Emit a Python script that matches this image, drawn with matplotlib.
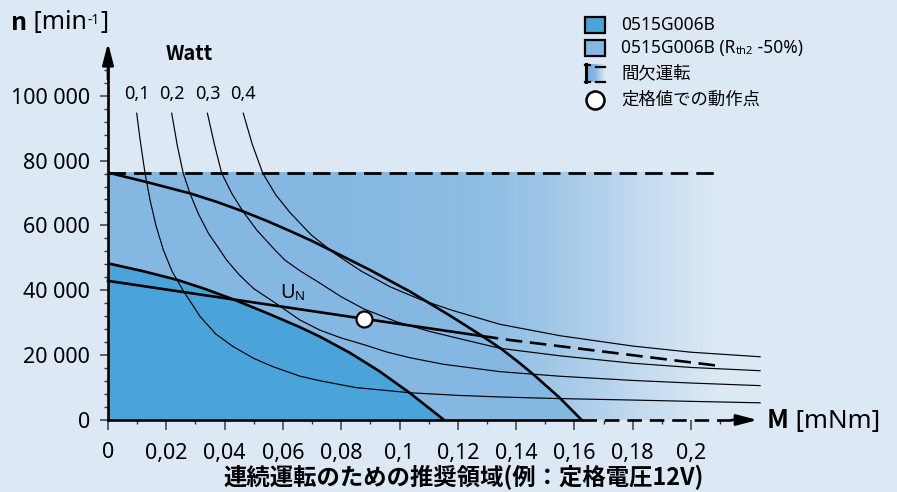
import numpy as np
import matplotlib
matplotlib.use("Agg")
import matplotlib.pyplot as plt
from matplotlib.colors import LinearSegmentedColormap
from matplotlib.patches import Rectangle
from matplotlib.lines import Line2D

plt.rcParams['font.family'] = ['Noto Sans', 'Noto Sans CJK JP', 'DejaVu Sans']
BOLD = ['Noto Sans CJK JP', 'DejaVu Sans']

# ---------------- data ----------------
x_ticks = [0, 0.02, 0.04, 0.06, 0.08, 0.10, 0.12, 0.14, 0.16, 0.18, 0.20]
x_tick_labels = ["0", "0,02", "0,04", "0,06", "0,08", "0,1", "0,12", "0,14", "0,16", "0,18", "0,2"]
y_ticks = [0, 20000, 40000, 60000, 80000, 100000]
y_tick_labels = ["0", "20 000", "40 000", "60 000", "80 000", "100 000"]

max_speed = 76300          # intermittent / max speed limit (rpm)
intermittent_end = 0.21    # torque where intermittent zone ends (mNm)

# 0515G006B continuous operation boundary
dark_M = [0, 0.012, 0.0238, 0.033, 0.043, 0.055, 0.0659, 0.0727, 0.083, 0.093, 0.1036, 0.1153]
dark_n = [48300, 45900, 43200, 40500, 37200, 32800, 28600, 25700, 20700, 15100, 8300, 0]

# 0515G006B (Rth2 -50%) boundary
light_M = [0, 0.014, 0.0281, 0.0375, 0.0464, 0.055, 0.0624, 0.07, 0.0767, 0.09, 0.1036,
           0.1173, 0.1282, 0.135, 0.1413, 0.1465, 0.155, 0.1625]
light_n = [76300, 73200, 69900, 67200, 64300, 61200, 58300, 55200, 52200, 46200, 39600,
           32200, 26000, 21900, 17500, 13600, 6800, 0]

# U_N line (solid, then dashed)
un_solid_M = [0, 0.0879, 0.1282]
un_solid_n = [42900, 31200, 25900]
un_dash_M = [0.1282, 0.138, 0.21]
un_dash_n = [25900, 24650, 16650]

# rated operating point
op_M = [0.0879]
op_n = [31200]

# constant power curves (Watt)
power_labels = ["0,1", "0,2", "0,3", "0,4"]
p01_M = [0.00985, 0.011, 0.0127, 0.0145, 0.0165, 0.019, 0.022, 0.0258, 0.0316, 0.037, 0.043,
         0.05, 0.0567, 0.0659, 0.0727, 0.085, 0.1036, 0.12, 0.1345, 0.155, 0.18, 0.2, 0.2237]
p01_n = [94600, 86500, 76100, 67500, 59800, 52400, 45800, 39900, 31900, 26500, 22600,
         19000, 16400, 13500, 12100, 10000, 8400, 7600, 7100, 6600, 6150, 5750, 5300]
p02_M = [0.02185, 0.0238, 0.0258, 0.0281, 0.031, 0.0345, 0.0384, 0.0407, 0.045, 0.05, 0.0567,
         0.0659, 0.0727, 0.08, 0.0879, 0.0955, 0.1036, 0.115, 0.1345, 0.155, 0.18, 0.2, 0.2237]
p02_n = [94600, 84500, 76100, 69900, 63600, 57500, 52400, 49300, 44800, 40500, 36500,
         30800, 27700, 25300, 23200, 21000, 19200, 17200, 14900, 13500, 12200, 11400, 10600]
p03_M = [0.0341, 0.0365, 0.039, 0.0425, 0.0464, 0.051, 0.0573, 0.0607, 0.0659, 0.0727, 0.08,
         0.0879, 0.099, 0.11, 0.12, 0.1345, 0.155, 0.18, 0.2, 0.2237]
p03_n = [94600, 85000, 76100, 69800, 64200, 58600, 52400, 49300, 46000, 42200, 38000,
         34200, 30300, 27400, 25200, 22100, 19800, 17500, 16200, 15200]
p04_M = [0.0464, 0.0495, 0.0531, 0.0575, 0.0624, 0.0698, 0.078, 0.0867, 0.0967, 0.107, 0.1185,
         0.1345, 0.155, 0.18, 0.2, 0.2237]
p04_n = [94600, 85000, 76100, 69500, 64000, 57000, 51200, 46000, 41100, 37200, 33700,
         29500, 26000, 22800, 20900, 19500]
power_M = [p01_M, p02_M, p03_M, p04_M]
power_n = [p01_n, p02_n, p03_n, p04_n]

legend_labels = ["0515G006B", "0515G006B (R", "間欠運転", "定格値での動作点"]
x_label = "M"
x_unit = " [mNm]"
y_label = "n"
caption = "連続運転のための推奨領域(例：定格電圧12V)"

# ---------------- style ----------------
BG = "#dce9f5"
LIGHT = "#84b8e2"
DARK = "#4aa3d9"
W, H = 897, 492
X0, XS = 108, 2915.0       # pixel of M=0, pixels per mNm
Y0, YS = 420, 0.003243     # pixel of n=0, pixels per rpm
DASH = (0, (6.3, 2.9))

def fxy(px, py):
    return px / W, 1 - py / H

fig = plt.figure(figsize=(W / 100, H / 100), dpi=100, facecolor=BG)
ax = fig.add_axes([0, 0, 1, 1])
ax.set_facecolor(BG)

# intermittent zone gradient
grad_cmap = LinearSegmentedColormap.from_list(
    "grad", [(0.0, LIGHT), (0.40, "#85b9e2"), (0.58, "#8cbde4"), (0.68, "#97c3e6"),
             (0.78, "#adcdea"), (0.88, "#c5dcf0"), (1.0, BG)])
ax.imshow(np.linspace(0, 1, 400)[np.newaxis, :], extent=[0, intermittent_end, 0, max_speed],
          aspect='auto', cmap=grad_cmap, interpolation='bilinear', zorder=1)

ax.fill_between(light_M, light_n, 0, color=LIGHT, lw=0, zorder=2)
ax.fill_between(dark_M, dark_n, 0, color=DARK, lw=0, zorder=3)

for pm, pn in zip(power_M, power_n):
    ax.plot(pm, pn, color='black', lw=0.85, zorder=4, solid_joinstyle='round')
for lab, pm in zip(power_labels, power_M):
    ax.text(pm[0], (Y0 - 94.5) / YS, lab, ha='center', va='center', fontsize=13, zorder=6)

ax.plot(light_M, light_n, color='black', lw=1.9, zorder=5, solid_capstyle='butt', solid_joinstyle='round')
ax.plot(dark_M, dark_n, color='black', lw=1.9, zorder=5, solid_capstyle='butt', solid_joinstyle='round')
ax.plot(un_solid_M, un_solid_n, color='black', lw=1.9, zorder=5)
ax.plot(un_dash_M, un_dash_n, color='black', lw=1.9, ls=DASH, zorder=5)
ax.plot([0, intermittent_end], [max_speed, max_speed], color='black', lw=2.0, ls=DASH, zorder=5)
ax.plot(op_M, op_n, 'o', ms=11.5, mfc='white', mec='black', mew=1.6, zorder=7)

# ---- axes via spines ----
for s in ['top', 'right']:
    ax.spines[s].set_visible(False)
ax.spines['left'].set_position(('data', 0))
ax.spines['bottom'].set_position(('data', 0))
ax.spines['left'].set_bounds(0, 110000)
ax.spines['bottom'].set_bounds(0, light_M[-1])
for s in ['left', 'bottom']:
    ax.spines[s].set_linewidth(1.9)
    ax.spines[s].set_zorder(8)

ax.set_xticks(x_ticks)
ax.set_xticklabels(x_tick_labels)
ax.set_xticks(np.round(np.arange(0.01, 0.215, 0.02), 3), minor=True)
ax.set_yticks(y_ticks)
ax.set_yticklabels(y_tick_labels)
ax.set_yticks([v for v in range(4000, 110000, 4000) if v % 20000 != 0], minor=True)
ax.tick_params(axis='both', which='major', direction='out', color='#555555',
               labelsize=15.5, width=1.3)
ax.tick_params(axis='x', which='major', length=7.2, pad=9)
ax.tick_params(axis='y', which='major', length=5.8, pad=7)
ax.tick_params(axis='both', which='minor', direction='out', color='#333333', width=1.0, length=2.8)

# axis arrows and dashed extension
ax.plot([light_M[-1], 0.2175], [0, 0], color='black', lw=1.9, ls=(0, (5.5, 3.0)), zorder=8, clip_on=False)
ax.annotate('', xy=(0.2228, 0), xytext=(0.214, 0),
            arrowprops=dict(arrowstyle='-|>,head_length=1.25,head_width=0.33', color='black',
                            lw=1.9, shrinkA=0, shrinkB=0), zorder=9)
ax.annotate('', xy=(0, (Y0 - 43) / YS), xytext=(0, 105000),
            arrowprops=dict(arrowstyle='-|>,head_length=1.3,head_width=0.34', color='black',
                            lw=1.9, shrinkA=0, shrinkB=0), zorder=9)
ax.set_xlim(-X0 / XS, (W - X0) / XS)
ax.set_ylim((Y0 - H) / YS, Y0 / YS)

# ---- texts ----
ax.text((189 - X0) / XS, (Y0 - 54) / YS, "Watt", fontsize=14.5, fontweight='bold', family=BOLD,
        ha='center', va='center')
tu = ax.text((280 - X0) / XS, (Y0 - 298) / YS, "U", fontsize=14.5, ha='left', va='baseline', zorder=6)
ax.annotate("N", xy=(1, 0), xycoords=tu, fontsize=9.5, ha='left', va='bottom')

tn = fig.text(*fxy(11, 30), y_label, fontsize=18, fontweight='bold', family=BOLD,
              ha='left', va='baseline')
t2 = plt.annotate(" [min", xy=(1, 0), xycoords=tn, fontsize=18, ha='left', va='bottom',
                  annotation_clip=False)
t3 = plt.annotate("-1", xy=(1, 1), xycoords=t2, xytext=(0.5, -2.5), textcoords='offset points',
                  fontsize=10, ha='left', va='top', annotation_clip=False)
plt.annotate("]", xy=(1, 0), xycoords=(t3, t2), xytext=(0.5, 0), textcoords='offset points',
             fontsize=18, ha='left', va='bottom', annotation_clip=False)

tm = fig.text(*fxy(767, 428), x_label, fontsize=18.5, fontweight='bold', family=BOLD,
              ha='left', va='baseline')
plt.annotate(x_unit, xy=(1, 0), xycoords=tm, fontsize=18.5, ha='left', va='bottom',
             annotation_clip=False)

fig.text(*fxy(464, 490.5), caption, fontsize=16.8, fontweight='bold', family=BOLD,
         ha='center', va='bottom')

# ---- legend ----
rows = [25, 48, 73, 100]
px0, px1 = 585, 605
ph = 15
for i, col in enumerate([DARK, LIGHT]):
    cx, cy = fxy(px0, rows[i] + ph / 2)
    fig.patches.append(Rectangle((cx, cy), (px1 - px0) / W, ph / H, transform=fig.transFigure,
                                 facecolor=col, edgecolor='black', lw=1.6))
# gradient icon
gx, gy = fxy(px0, rows[2] + 9)
gax = fig.add_axes([gx, gy, (px1 - px0) / W, 18 / H])
gax.imshow(np.linspace(0, 1, 100)[np.newaxis, :], aspect='auto',
           cmap=LinearSegmentedColormap.from_list('g2', ["#6fafdd", LIGHT, BG]))
gax.axis('off')
def fline(xs, ys, lw):
    fig.lines.append(Line2D([x / W for x in xs], [1 - y / H for y in ys],
                            transform=fig.transFigure, color='black', lw=lw))
fline([px0 + 1, px0 + 1], [rows[2] - 9, rows[2] + 9], 2.2)
fline([px0, px0 + 5], [rows[2] - 8.5, rows[2] - 8.5], 1.6)
fline([px0, px0 + 5], [rows[2] + 8.5, rows[2] + 8.5], 1.6)
fline([px0 + 11, px1], [rows[2] - 6, rows[2] - 6], 1.6)
fline([px0 + 11, px1], [rows[2] + 8.5, rows[2] + 8.5], 1.6)
fig.lines.append(Line2D([595 / W], [1 - rows[3] / H], transform=fig.transFigure, marker='o',
                        ms=13, mfc='white', mec='black', mew=1.8, ls='none'))

tx = 621
for i, lab in enumerate(legend_labels):
    t = fig.text(*fxy(tx, rows[i] + 5), lab, fontsize=12.5, ha='left', va='baseline')
    if i == 1:
        ts = plt.annotate("th2", xy=(1, 0), xycoords=t, fontsize=8, ha='left', va='bottom',
                          annotation_clip=False)
        plt.annotate(" -50%)", xy=(1, 0), xycoords=(ts, t), fontsize=12.5, ha='left', va='bottom',
                     annotation_clip=False)

fig.savefig("out.png", dpi=100, facecolor=BG)
